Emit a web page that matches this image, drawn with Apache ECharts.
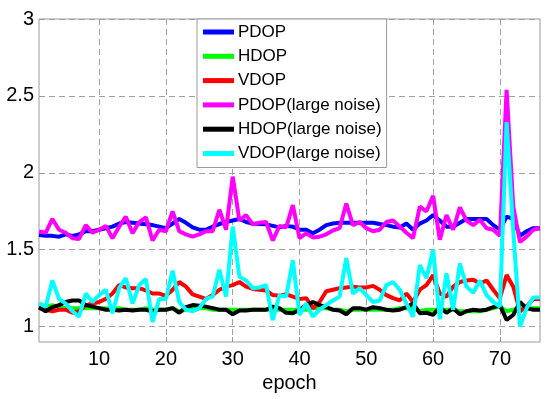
<!DOCTYPE html>
<html>
<head>
<meta charset="utf-8">
<script src="https://cdn.jsdelivr.net/npm/echarts@6/dist/echarts.min.js"></script>
<style>html,body{margin:0;padding:0;background:#fff}#c{width:550px;height:399px}</style>
</head>
<body>
<div id="c"></div>
<script>
var seriesNames = ['PDOP','HDOP','VDOP','PDOP(large noise)','HDOP(large noise)','VDOP(large noise)'];
var seriesColors = ['#0000ff','#00ff00','#ff0000','#ff00ff','#000000','#00ffff'];
var xTicks = [10,20,30,40,50,60,70];
var yTicks = [1,1.5,2,2.5,3];

var pdop = [1.596,1.59,1.59,1.585,1.60,1.59,1.60,1.62,1.62,1.63,1.64,1.65,1.67,1.68,1.675,1.67,1.665,1.66,1.65,1.64,
  1.67,1.70,1.675,1.645,1.63,1.63,1.65,1.667,1.68,1.69,1.70,1.68,1.67,1.667,1.665,1.655,1.645,1.655,1.65,1.63,
  1.63,1.607,1.63,1.66,1.67,1.675,1.675,1.675,1.675,1.675,1.675,1.667,1.66,1.65,1.645,1.67,1.63,1.67,1.69,1.725,
  1.69,1.65,1.65,1.675,1.70,1.70,1.70,1.70,1.66,1.63,1.715,1.70,1.59,1.62,1.64,1.64];
var hdop = [1.12,1.13,1.14,1.13,1.12,1.12,1.12,1.12,1.12,1.12,1.12,1.11,1.12,1.11,1.11,1.11,1.12,1.11,1.11,1.11,
  1.12,1.10,1.11,1.12,1.12,1.12,1.11,1.11,1.11,1.11,1.11,1.11,1.11,1.11,1.11,1.11,1.11,1.11,1.11,1.11,
  1.11,1.12,1.12,1.12,1.11,1.11,1.10,1.11,1.11,1.11,1.11,1.11,1.11,1.11,1.12,1.12,1.12,1.10,1.11,1.11,
  1.11,1.11,1.11,1.10,1.10,1.10,1.10,1.11,1.12,1.13,1.10,1.11,1.12,1.12,1.12,1.12];
var vdop = [1.12,1.11,1.10,1.11,1.11,1.09,1.10,1.14,1.15,1.16,1.18,1.215,1.27,1.255,1.25,1.25,1.235,1.215,1.215,1.20,
  1.24,1.29,1.26,1.21,1.195,1.18,1.205,1.24,1.26,1.27,1.29,1.26,1.245,1.24,1.235,1.205,1.20,1.21,1.195,1.18,
  1.185,1.12,1.16,1.23,1.24,1.25,1.255,1.26,1.255,1.255,1.265,1.24,1.205,1.185,1.17,1.215,1.16,1.24,1.27,1.335,
  1.215,1.195,1.26,1.29,1.30,1.305,1.28,1.30,1.24,1.185,1.335,1.26,1.10,1.13,1.18,1.18];
var pdopLarge = [1.618,1.61,1.70,1.63,1.61,1.575,1.57,1.66,1.61,1.63,1.655,1.575,1.65,1.715,1.607,1.68,1.71,1.56,1.63,1.62,
  1.75,1.62,1.60,1.585,1.60,1.62,1.62,1.76,1.63,1.975,1.69,1.725,1.665,1.675,1.68,1.56,1.655,1.645,1.79,1.575,
  1.607,1.58,1.585,1.60,1.625,1.64,1.80,1.66,1.68,1.64,1.62,1.63,1.68,1.69,1.65,1.61,1.575,1.78,1.75,1.85,
  1.565,1.725,1.63,1.775,1.69,1.66,1.695,1.64,1.63,1.59,2.54,1.78,1.55,1.585,1.63,1.64];
var hdopLarge = [1.126,1.10,1.126,1.14,1.16,1.17,1.17,1.14,1.13,1.12,1.11,1.11,1.105,1.11,1.105,1.11,1.11,1.10,1.11,1.11,
  1.12,1.09,1.126,1.14,1.135,1.13,1.12,1.11,1.11,1.08,1.105,1.105,1.11,1.11,1.11,1.13,1.12,1.09,1.087,1.11,
  1.14,1.16,1.14,1.126,1.11,1.105,1.08,1.12,1.12,1.11,1.126,1.12,1.11,1.105,1.11,1.126,1.15,1.087,1.09,1.076,
  1.126,1.09,1.12,1.08,1.10,1.11,1.105,1.11,1.126,1.14,1.043,1.076,1.16,1.12,1.11,1.11];
var vdopLarge = [1.152,1.13,1.30,1.18,1.15,1.10,1.065,1.215,1.16,1.205,1.24,1.087,1.25,1.315,1.15,1.27,1.31,1.03,1.18,1.18,
  1.364,1.16,1.11,1.10,1.12,1.18,1.195,1.37,1.195,1.65,1.325,1.30,1.25,1.255,1.27,1.043,1.205,1.195,1.43,1.075,
  1.15,1.065,1.11,1.14,1.17,1.195,1.445,1.215,1.25,1.205,1.16,1.17,1.27,1.29,1.24,1.15,1.065,1.40,1.315,1.50,
  1.048,1.347,1.11,1.41,1.26,1.22,1.30,1.205,1.16,1.13,2.33,1.62,1.00,1.12,1.19,1.19];

var allData = [pdop, hdop, vdop, pdopLarge, hdopLarge, vdopLarge];
var font = 'Liberation Sans, Arial, sans-serif';

var chart = echarts.init(document.getElementById('c'), null, {renderer: 'canvas'});
chart.setOption({
  animation: false,
  backgroundColor: '#ffffff',
  grid: {left: 39, right: 10, top: 19, bottom: 57, show: true, borderColor: '#9a9a9a', borderWidth: 1, backgroundColor: 'transparent'},
  legend: {
    orient: 'vertical', left: 197, top: 19,
    data: seriesNames,
    icon: 'rect', itemWidth: 31, itemHeight: 5, itemGap: 4.3,
    padding: [3, 5, 4, 6],
    backgroundColor: '#ffffff', borderColor: '#9a9a9a', borderWidth: 1,
    textStyle: {fontFamily: font, fontSize: 17, color: '#000', lineHeight: 20, padding: [0,0,0,-1]},
    selectedMode: false
  },
  xAxis: {
    type: 'value', min: 1, max: 76,
    name: 'epoch', nameLocation: 'middle', nameGap: 28,
    nameTextStyle: {fontFamily: font, fontSize: 20, color: '#000'},
    axisLine: {show: false},
    axisTick: {show: true, inside: true, length: 5, lineStyle: {color: '#9a9a9a'}, customValues: xTicks},
    axisLabel: {fontFamily: font, fontSize: 20, color: '#000', margin: 7, customValues: xTicks},
    splitLine: {show: true, lineStyle: {color: '#a0a0a0', type: [6, 4], width: 1}}
  },
  yAxis: {
    type: 'value', min: 0.9, max: 3,
    axisLine: {show: false},
    axisTick: {show: true, inside: true, length: 5, lineStyle: {color: '#9a9a9a'}, customValues: yTicks},
    axisLabel: {fontFamily: font, fontSize: 20, color: '#000', margin: 5, customValues: yTicks},
    splitLine: {show: true, lineStyle: {color: '#a0a0a0', type: [6, 4], width: 1}}
  },
  series: allData.map(function (d, i) {
    return {
      name: seriesNames[i], type: 'line', symbol: 'none',
      data: d.map(function (v, j) { return [j + 1, v]; }),
      lineStyle: {color: seriesColors[i], width: 4},
      itemStyle: {color: seriesColors[i]},
      z: 2 + i
    };
  })
});
</script>
</body>
</html>
